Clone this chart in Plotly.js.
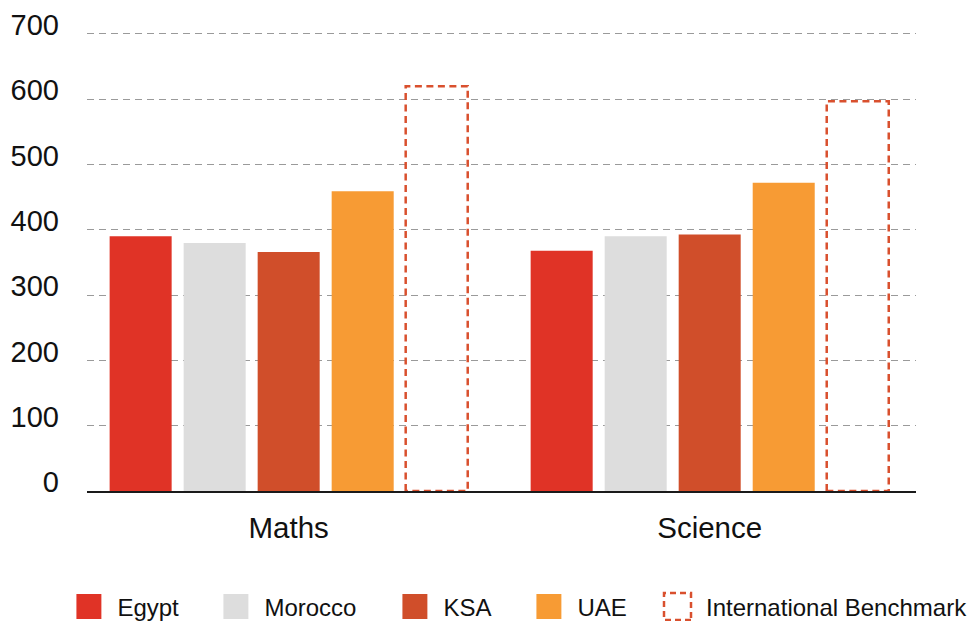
<!DOCTYPE html>
<html><head><meta charset="utf-8">
<script src="https://cdn.plot.ly/plotly-3.0.1.min.js"></script>
<style>
html,body{margin:0;padding:0;background:#fff;}
#chart{width:972px;height:621px;}
.legendpoints path.legendundefined,
.legendpoints path.legendbar{transform:translate(28.5px,0px) scale(2.08);vector-effect:non-scaling-stroke;}
.legend5 .legendpoints path.legendundefined,
.legend5 .legendpoints path.legendbar{transform:translate(28.5px,0px) scale(2.25);stroke-dasharray:6px 4px !important;stroke-width:2.5px !important;}
.barlayer .trace:last-child path{stroke-dasharray:7px 4.5px !important;}
</style></head><body><div id="chart"></div>
<script>
// ---- data ----
const subjects = ['Maths', 'Science'];
const countries = ['Egypt', 'Morocco', 'KSA', 'UAE'];
const egypt   = [390, 368];
const morocco = [380, 390];
const ksa     = [366, 393];
const uae     = [459, 472];
const benchmarkName = 'International Benchmark';
const benchmark = [620, 597];
const yTickVals = [0, 100, 200, 300, 400, 500, 600, 700];

// ---- styles ----
const colors = ['#e03326', '#dddddd', '#d04e2a', '#f79b34'];
const benchColor = '#d9502e';
const font = 'Liberation Sans, Arial, Helvetica, sans-serif';
const bargap = 0.121, bargroupgap = 0.162;
const legendIds = ['legend', 'legend2', 'legend3', 'legend4', 'legend5'];
const legendX = [60.4, 207.4, 386.4, 520.4, 649];   // px from left of the page

const series = [egypt, morocco, ksa, uae];
const traces = countries.map((c, k) => ({
  type: 'bar', name: c, x: subjects, y: series[k], legend: legendIds[k],
  marker: {color: colors[k], line: {width: 0}}
}));
traces.push({
  type: 'bar', name: benchmarkName, x: subjects, y: benchmark, legend: legendIds[4],
  marker: {color: 'rgba(0,0,0,0)', line: {color: benchColor, width: 2.5}}
});

const layout = {
  width: 972, height: 621, autosize: false,
  margin: {l: 87, r: 56, t: 32, b: 130, autoexpand: false},
  paper_bgcolor: '#fff', plot_bgcolor: '#fff',
  font: {family: font, color: '#111', size: 24},
  barmode: 'group', bargap: bargap, bargroupgap: bargroupgap,
  showlegend: true,
  xaxis: {
    type: 'category', categoryorder: 'array', categoryarray: subjects,
    range: [-0.479, 1.49], showgrid: false, zeroline: false,
    showline: true, linecolor: '#1a1a1a', linewidth: 2,
    ticks: '', ticklabelstandoff: 10,
    tickfont: {family: font, size: 29.5, color: '#111'}
  },
  yaxis: {
    range: [0, 703], tickvals: yTickVals, ticktext: yTickVals.map(String),
    showgrid: true, gridcolor: '#9a9a9a', gridwidth: 1.2, griddash: '7px,5px',
    zeroline: false, showline: false, ticks: '',
    ticklabelstandoff: 27, ticklabelshift: -9,
    tickfont: {family: font, size: 29, color: '#111'}
  },
  hovermode: false
};
legendIds.forEach((id, k) => {
  layout[id] = {
    orientation: 'h', xref: 'container', yref: 'container',
    x: legendX[k] / 972, xanchor: 'left', y: 1 - 607 / 621, yanchor: 'middle',
    font: {family: font, size: 24, color: '#111'},
    itemwidth: 47, bgcolor: 'rgba(0,0,0,0)', borderwidth: 0
  };
});

Plotly.newPlot('chart', traces, layout, {displayModeBar: false, responsive: false});
</script>
</body></html>
